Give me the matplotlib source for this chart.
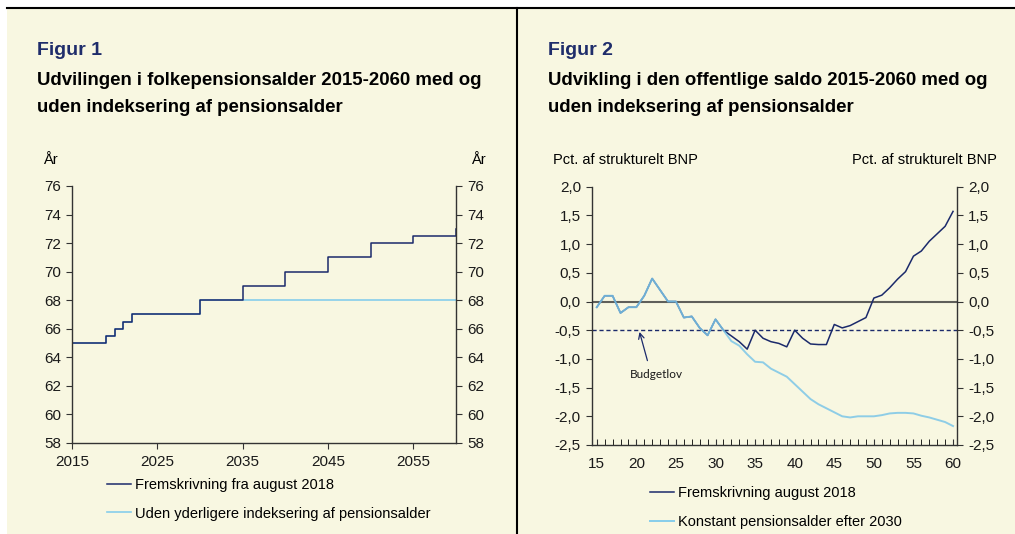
import matplotlib.pyplot as plt
from matplotlib.patches import Rectangle
from matplotlib.lines import Line2D
from matplotlib.ticker import MultipleLocator, FuncFormatter

plt.rcParams['font.family'] = ['Liberation Sans', 'DejaVu Sans']

# Figur 1: folkepensionsalder
years = list(range(2015, 2061))
age_aug2018 = [65, 65, 65, 65, 65.5, 66, 66.5, 67, 67, 67,
               67, 67, 67, 67, 67, 68, 68, 68, 68, 68,
               69, 69, 69, 69, 69, 70, 70, 70, 70, 70,
               71, 71, 71, 71, 71, 72, 72, 72, 72, 72,
               72.5, 72.5, 72.5, 72.5, 72.5, 73]
age_no_index = [65, 65, 65, 65, 65.5, 66, 66.5, 67, 67, 67,
                67, 67, 67, 67, 67, 68, 68, 68, 68, 68,
                68, 68, 68, 68, 68, 68, 68, 68, 68, 68,
                68, 68, 68, 68, 68, 68, 68, 68, 68, 68,
                68, 68, 68, 68, 68, 68]

# Figur 2: offentlig saldo, pct. af strukturelt BNP
yrs_short = list(range(15, 61))
saldo_aug2018 = [-0.1, 0.1, 0.1, -0.2, -0.1, -0.1, 0.1, 0.4, 0.2, 0.0,
                 0.0, -0.28, -0.26, -0.46, -0.59, -0.31, -0.5, -0.6, -0.7, -0.83,
                 -0.5, -0.64, -0.7, -0.73, -0.79, -0.5, -0.64, -0.74, -0.75, -0.75,
                 -0.4, -0.46, -0.42, -0.35, -0.28, 0.06, 0.11, 0.24, 0.39, 0.52,
                 0.79, 0.88, 1.05, 1.18, 1.31, 1.57]
saldo_konstant = [-0.1, 0.1, 0.1, -0.2, -0.1, -0.1, 0.1, 0.4, 0.2, 0.0,
                  0.0, -0.28, -0.26, -0.46, -0.59, -0.31, -0.5, -0.69, -0.77, -0.92,
                  -1.05, -1.06, -1.17, -1.24, -1.31, -1.44, -1.57, -1.7, -1.79, -1.86,
                  -1.93, -2.0, -2.02, -2.0, -2.0, -2.0, -1.98, -1.95, -1.94, -1.94,
                  -1.95, -1.99, -2.02, -2.06, -2.1, -2.17]
budgetlov = -0.5

W, H = 1015, 534
cream = '#F8F7E1'
navy = '#1B2A6B'
light = '#86CDEB'
axcol = '#333333'

fig = plt.figure(figsize=(W / 100, H / 100), dpi=100, facecolor='white')
fig.add_artist(Rectangle((7 / W, 0), 1 - 7 / W, 1 - 8 / H, transform=fig.transFigure,
                         facecolor=cream, edgecolor='none', zorder=0))
fig.add_artist(Line2D([7 / W, 1], [1 - 8 / H, 1 - 8 / H], transform=fig.transFigure, color='black', lw=1.5))
fig.add_artist(Line2D([517 / W, 517 / W], [0, 1 - 8 / H], transform=fig.transFigure, color='black', lw=1.5))


def style_axes(ax):
    ax.set_facecolor('none')
    ax.spines['top'].set_visible(False)
    for s in ['left', 'right', 'bottom']:
        ax.spines[s].set_color(axcol)
        ax.spines[s].set_linewidth(1)
    ax.tick_params(axis='y', which='both', left=True, right=True, labelleft=True, labelright=True,
                   direction='out', length=4, pad=4, color=axcol, labelsize=11, labelcolor='#1a1a1a')
    ax.tick_params(axis='x', labelsize=11, labelcolor='#1a1a1a', color=axcol)


# ---- Figur 1 ----
ax1 = fig.add_axes([72 / W, 1 - 443 / H, 384 / W, 257 / H])
style_axes(ax1)
ax1.plot(years, age_no_index, drawstyle='steps-post', color=light, lw=1.2)
ax1.plot(years, age_aug2018, drawstyle='steps-post', color=navy, lw=1.1)
ax1.set_xlim(2015, 2060)
ax1.set_ylim(58, 76)
ax1.set_yticks(range(58, 77, 2))
ax1.set_xticks([2015, 2025, 2035, 2045, 2055])
ax1.tick_params(axis='x', direction='out', length=4, pad=5)

fig.text(37 / W, 1 - 55 / H, 'Figur 1', fontsize=14, fontweight='bold', color='#1F2D6B', va='baseline')
fig.text(37 / W, 1 - 85 / H, 'Udvilingen i folkepensionsalder 2015-2060 med og', fontsize=13.4,
         fontweight='bold', va='baseline')
fig.text(37 / W, 1 - 112 / H, 'uden indeksering af pensionsalder', fontsize=13.4, fontweight='bold', va='baseline')
fig.text(43 / W, 1 - 160 / H, 'År', fontsize=10.5, va='center', ha='left')
fig.text(486 / W, 1 - 160 / H, 'År', fontsize=10.5, va='center', ha='right')

h1 = [Line2D([], [], color=navy, lw=1.1), Line2D([], [], color=light, lw=1.2)]
fig.legend(h1, ['Fremskrivning fra august 2018', 'Uden yderligere indeksering af pensionsalder'],
           loc='upper left', bbox_to_anchor=(107 / W, 1 - 478 / H), frameon=False, fontsize=10.5,
           handlelength=1.65, handletextpad=0.25, labelspacing=1.0, borderpad=0, borderaxespad=0)

# ---- Figur 2 ----
ax2 = fig.add_axes([592 / W, 1 - 445 / H, 365 / W, 258.3 / H])
style_axes(ax2)
ax2.axhline(0, color='#5f5f5a', lw=1.5, zorder=1)
ax2.axhline(budgetlov, color=navy, lw=1, ls=(0, (3, 2)), zorder=1)
ax2.plot(yrs_short, saldo_aug2018, color=navy, lw=1.1, zorder=2)
ax2.plot(yrs_short, saldo_konstant, color='#7cc6e8', lw=1.4, alpha=0.85, zorder=3)
ax2.set_xlim(14.4, 60.5)
ax2.set_ylim(-2.5, 2.0)
ax2.yaxis.set_major_locator(MultipleLocator(0.5))
fmt = FuncFormatter(lambda v, p: f'{v:.1f}'.replace('.', ','))
ax2.yaxis.set_major_formatter(fmt)
ax2.set_xticks(range(15, 61, 5))
ax2.xaxis.set_minor_locator(MultipleLocator(1))
ax2.tick_params(axis='x', which='both', direction='in', length=4, pad=9)

ax2.annotate('', xy=(20.4, -0.53), xytext=(21.4, -1.03),
             arrowprops=dict(arrowstyle='->', color=navy, lw=0.9, shrinkA=0, shrinkB=0))
ax2.text(22.5, -1.28, 'Budgetlov', fontsize=8.5, family=['Lato', 'DejaVu Sans'], ha='center', va='center',
         color='#1a1a1a')

fig.text(548 / W, 1 - 55 / H, 'Figur 2', fontsize=14, fontweight='bold', color='#1F2D6B', va='baseline')
fig.text(548 / W, 1 - 85 / H, 'Udvikling i den offentlige saldo 2015-2060 med og', fontsize=13.4,
         fontweight='bold', va='baseline')
fig.text(548 / W, 1 - 112 / H, 'uden indeksering af pensionsalder', fontsize=13.4, fontweight='bold', va='baseline')
fig.text(553 / W, 1 - 160 / H, 'Pct. af strukturelt BNP', fontsize=10.5, va='center', ha='left')
fig.text(997 / W, 1 - 160 / H, 'Pct. af strukturelt BNP', fontsize=10.5, va='center', ha='right')

h2 = [Line2D([], [], color=navy, lw=1.1), Line2D([], [], color=light, lw=1.4)]
fig.legend(h2, ['Fremskrivning august 2018', 'Konstant pensionsalder efter 2030'],
           loc='upper left', bbox_to_anchor=(650 / W, 1 - 486 / H), frameon=False, fontsize=10.5,
           handlelength=1.65, handletextpad=0.25, labelspacing=1.05, borderpad=0, borderaxespad=0)

fig.savefig('out.png', dpi=100, facecolor='white')
